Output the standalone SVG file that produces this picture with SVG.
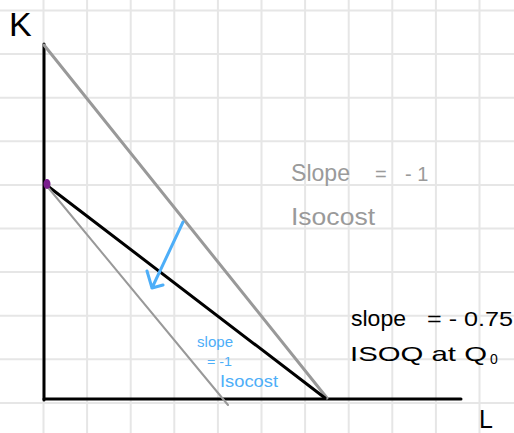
<svg xmlns="http://www.w3.org/2000/svg" width="514" height="433" viewBox="0 0 514 433">
<defs>
<style>
.grid{stroke:#e6e6e6;stroke-width:2;fill:none}
.hand{font-family:"Liberation Sans","DejaVu Sans",sans-serif}
.gray{fill:#9a9a9a}
.blk{fill:#000}
.blue{fill:#4daef8}
</style>
</defs>
<rect width="514" height="433" fill="#fff"/>
<g id="grid">
<path class="grid" d="M43.5 0V433M87.1 0V433M130.7 0V433M174.3 0V433M217.9 0V433M261.5 0V433M305.1 0V433M348.7 0V433M392.3 0V433M435.9 0V433M479.5 0V433M0 10.5H514M0 54.1H514M0 97.7H514M0 141.3H514M0 184.9H514M0 228.5H514M0 272.1H514M0 315.7H514M0 359.3H514M0 402.9H514"/>
</g>
<g id="connectors" fill="none" stroke-linecap="round">
<path id="k-axis" d="M44 44V400" stroke="#000" stroke-width="3"/>
<path id="l-axis" d="M44 399H461" stroke="#000" stroke-width="3"/>
<path id="isocost-outer" d="M44 45L327 398" stroke="#999" stroke-width="3"/>
<path id="isoquant" d="M45 184L325 398" stroke="#000" stroke-width="3"/>
<path id="isocost-inner" d="M46 185L228 405" stroke="#999" stroke-width="2"/>
<path id="shift-arrow" d="M183 222L152 288M147 271L152 288L163 285" stroke="#4daef8" stroke-width="3" stroke-linejoin="round"/>
</g>
<g id="point">
<ellipse cx="47" cy="184" rx="3.5" ry="5" fill="#7a1f8e"/>
</g>
<g id="label-k"><text class="hand blk" x="9" y="36" font-size="34">K</text></g>
<g id="label-l"><text class="hand blk" x="479" y="428" font-size="25">L</text></g>
<g id="label-isocost">
<text class="hand gray" x="291" y="181" font-size="24" textLength="59" lengthAdjust="spacingAndGlyphs">Slope</text>
<text class="hand gray" x="375" y="181" font-size="20">=</text>
<text class="hand gray" x="405" y="181" font-size="20">- 1</text>
<text class="hand gray" x="291" y="225" font-size="24" textLength="84" lengthAdjust="spacingAndGlyphs">Isocost</text>
</g>
<g id="label-isoquant">
<text class="hand blk" x="351" y="326" font-size="22" textLength="55" lengthAdjust="spacingAndGlyphs">slope</text>
<text class="hand blk" x="427" y="326" font-size="20" textLength="86" lengthAdjust="spacingAndGlyphs">=  - 0.75</text>
<text class="hand blk" x="350" y="361" font-size="21" textLength="137" lengthAdjust="spacingAndGlyphs">ISOQ  at  Q</text>
<text class="hand blk" x="490" y="364" font-size="14">0</text>
</g>
<g id="label-new-isocost">
<text class="hand blue" x="197" y="347" font-size="15" textLength="36" lengthAdjust="spacingAndGlyphs">slope</text>
<text class="hand blue" x="207" y="366" font-size="12" textLength="25" lengthAdjust="spacingAndGlyphs">= -1</text>
<text class="hand blue" x="220" y="387" font-size="17" textLength="58" lengthAdjust="spacingAndGlyphs">Isocost</text>
</g>
</svg>
